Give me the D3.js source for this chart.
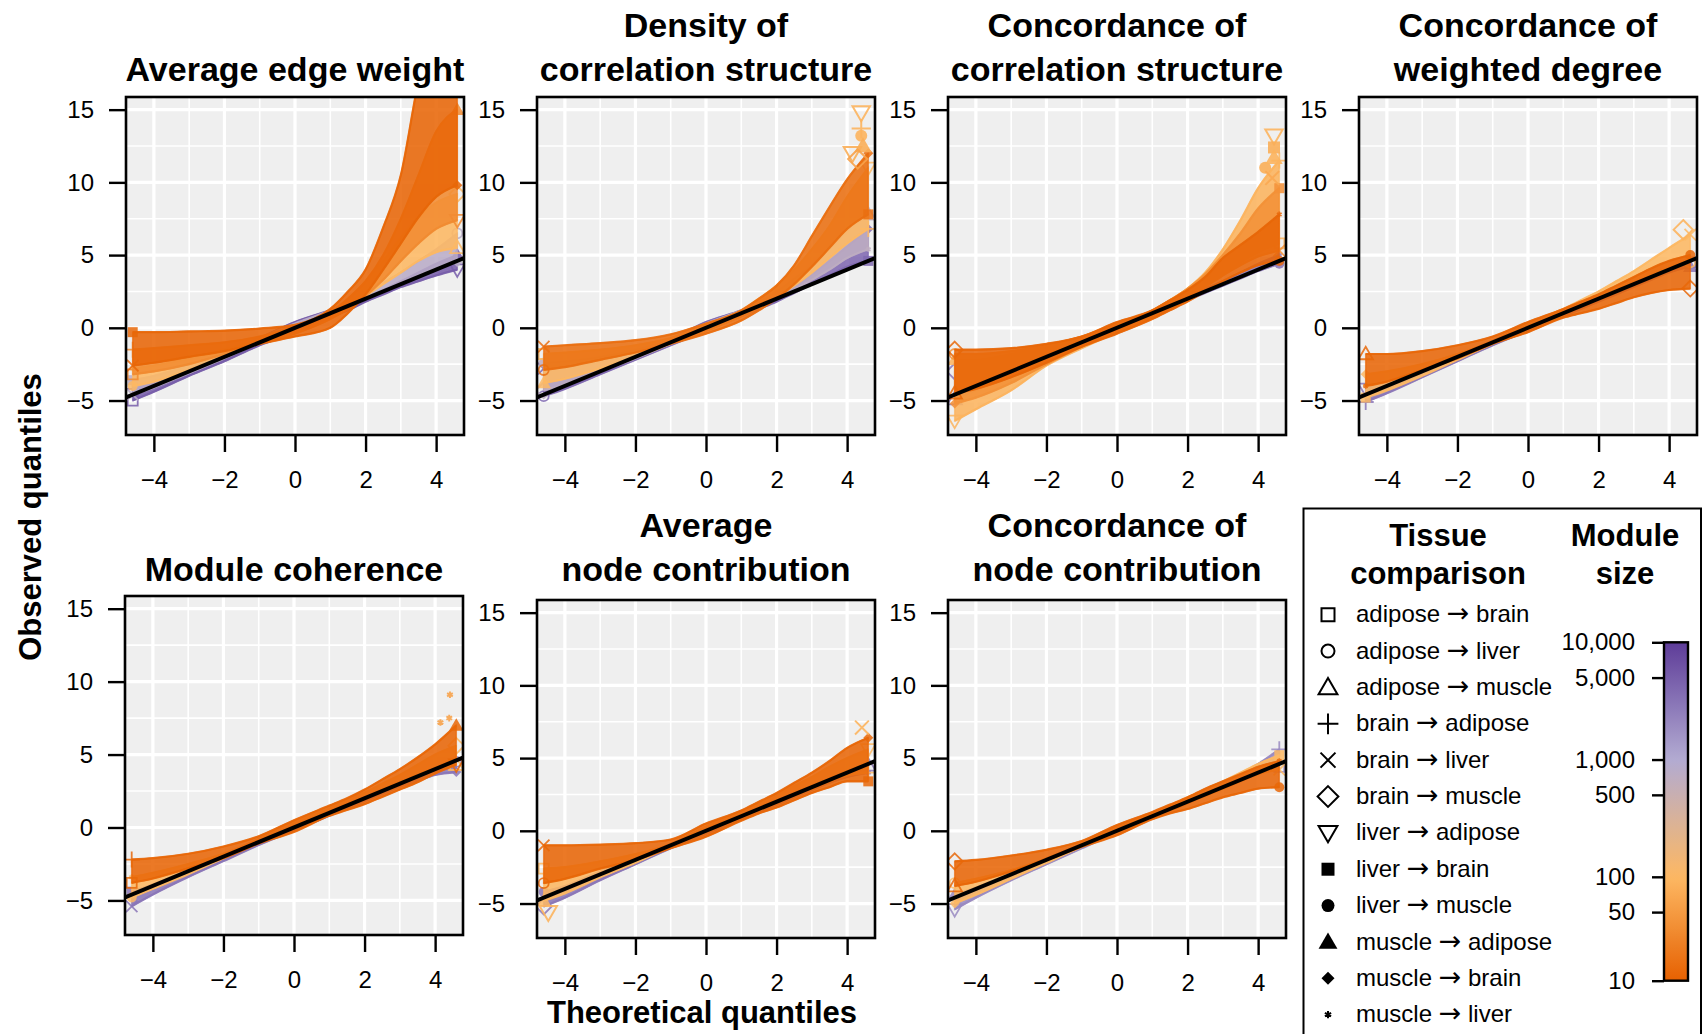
<!DOCTYPE html>
<html>
<head>
<meta charset="utf-8">
<script src="https://cdn.jsdelivr.net/npm/d3@7"></script>
<style>
  body { margin: 0; background: #ffffff; }
  text { font-family: "Liberation Sans", Arial, Helvetica, sans-serif; fill: #000; }
</style>
</head>
<body>
<svg id="chart" width="1702" height="1034"></svg>
<script>
// ---------------------------------------------------------------------------
// Data: observed vs theoretical quantiles of module preservation statistics.
// Each band is the envelope (lo/hi) covered by the QQ curves of modules of a
// given size, read at the theoretical quantile knots below.
// ---------------------------------------------------------------------------
const quantileKnots = [-4.6, -4, -3, -2, -1, 0, 1, 1.5, 2, 2.5, 3, 3.5, 4, 4.6];

const panelTitles = [
  ["Average edge weight"],
  ["Density of", "correlation structure"],
  ["Concordance of", "correlation structure"],
  ["Concordance of", "weighted degree"],
  ["Module coherence"],
  ["Average", "node contribution"],
  ["Concordance of", "node contribution"]
];

const edgeWeightBands = [
  { size: 5000, lo: [-5.0, -4.4, -3.3, -2.3, -1.2, -0.3, 0.7, 1.2, 1.8, 2.3, 2.8, 3.2, 3.6, 4.0],
                hi: [-4.2, -3.8, -2.8, -1.8, -0.7, 0.4, 1.2, 1.6, 2.1, 2.6, 3.2, 3.8, 4.4, 5.0] },
  { size: 800,  lo: [-4.6, -4.1, -3.1, -2.1, -1.0, 0.0, 0.9, 1.4, 2.0, 2.5, 3.0, 3.6, 4.1, 4.5],
                hi: [-3.6, -3.3, -2.6, -1.7, -0.7, 0.3, 1.2, 1.8, 2.4, 3.1, 3.8, 4.6, 5.4, 6.5] },
  { size: 100,  lo: [-4.0, -3.7, -2.9, -2.0, -1.0, -0.1, 0.9, 1.5, 2.2, 3.0, 3.8, 4.6, 5.2, 5.5],
                hi: [-2.8, -2.6, -2.1, -1.5, -0.8, 0.1, 1.1, 2.0, 3.2, 4.6, 6.2, 7.6, 8.6, 9.2] },
  { size: 35,   lo: [-3.2, -3.0, -2.5, -1.8, -1.1, -0.4, 0.6, 1.3, 2.2, 3.3, 4.6, 5.8, 6.8, 7.4],
                hi: [-1.5, -1.4, -1.2, -1.0, -0.6, 0.1, 1.0, 2.0, 3.2, 5.0, 7.5, 10.5, 13.5, 15.0] },
  { size: 15,   lo: [-2.6, -2.4, -2.0, -1.6, -1.1, -0.6, 0.0, 1.0, 2.3, 4.0, 5.8, 7.6, 9.0, 9.8],
                hi: [-0.3, -0.3, -0.25, -0.2, -0.05, 0.2, 1.3, 2.5, 4.0, 6.9, 10.5, 17.0, 22.0, 26.0] }
];

const densityBands = [
  { size: 4000, lo: [-4.7, -4.2, -3.2, -2.2, -1.2, -0.2, 0.8, 1.3, 1.8, 2.4, 3.0, 3.6, 4.2, 4.6],
                hi: [-2.8, -2.7, -2.3, -1.7, -0.8, 0.4, 1.2, 1.7, 2.3, 2.9, 3.7, 4.6, 5.6, 6.8] },
  { size: 700,  lo: [-4.3, -3.9, -3.0, -2.1, -1.1, -0.1, 0.9, 1.4, 2.0, 2.6, 3.3, 4.0, 4.8, 5.4],
                hi: [-2.4, -2.3, -2.0, -1.5, -0.8, 0.3, 1.2, 1.8, 2.5, 3.4, 4.3, 5.4, 6.6, 7.8] },
  { size: 100,  lo: [-3.8, -3.5, -2.8, -2.0, -1.1, -0.2, 0.8, 1.4, 2.1, 2.9, 3.8, 4.8, 5.8, 6.8],
                hi: [-1.8, -1.7, -1.5, -1.2, -0.7, 0.2, 1.2, 2.0, 2.9, 4.0, 5.4, 7.0, 9.0, 11.0] },
  { size: 18,   lo: [-2.9, -2.7, -2.2, -1.7, -1.1, -0.4, 0.5, 1.2, 2.0, 3.0, 4.2, 5.5, 6.8, 7.8],
                hi: [-1.3, -1.2, -1.05, -0.85, -0.45, 0.3, 1.2, 2.0, 2.9, 4.3, 6.3, 8.3, 10.2, 12.0] }
];

const concordCorrBands = [
  { size: 3000, lo: [-4.9, -4.3, -3.2, -2.2, -1.1, -0.1, 0.9, 1.4, 1.9, 2.4, 2.9, 3.4, 3.9, 4.4],
                hi: [-3.0, -2.9, -2.5, -1.8, -0.8, 0.3, 1.1, 1.6, 2.1, 2.7, 3.2, 3.8, 4.4, 5.0] },
  { size: 90,   lo: [-6.4, -5.6, -4.3, -2.6, -1.4, -0.3, 0.8, 1.4, 2.1, 2.9, 3.7, 4.5, 5.2, 5.8],
                hi: [-2.2, -2.2, -1.8, -1.3, -0.7, 0.3, 1.2, 1.9, 2.7, 3.8, 5.4, 7.4, 9.6, 11.5] },
  { size: 40,   lo: [-5.2, -4.8, -3.8, -2.5, -1.3, -0.3, 0.7, 1.3, 2.0, 2.8, 3.6, 4.3, 4.9, 5.3],
                hi: [-1.8, -1.8, -1.6, -1.2, -0.6, 0.3, 1.2, 1.9, 2.7, 3.7, 5.0, 6.5, 8.2, 9.6] },
  { size: 15,   lo: [-4.5, -4.2, -3.4, -2.4, -1.3, -0.4, 0.6, 1.2, 1.8, 2.5, 3.2, 3.8, 4.3, 4.6],
                hi: [-1.5, -1.5, -1.4, -1.1, -0.6, 0.4, 1.2, 1.9, 2.6, 3.5, 4.8, 5.7, 6.6, 7.8] }
];

const weightedDegreeBands = [
  { size: 3000, lo: [-5.1, -4.5, -3.4, -2.3, -1.2, -0.2, 0.8, 1.3, 1.8, 2.3, 2.8, 3.3, 3.8, 4.2],
                hi: [-4.2, -3.8, -2.9, -1.9, -0.9, 0.2, 1.1, 1.6, 2.1, 2.6, 3.1, 3.6, 4.1, 4.5] },
  { size: 100,  lo: [-4.8, -4.3, -3.3, -2.2, -1.1, -0.1, 0.9, 1.5, 2.0, 2.6, 3.2, 3.7, 4.2, 4.5],
                hi: [-3.2, -3.0, -2.5, -1.8, -0.9, 0.3, 1.3, 1.9, 2.5, 3.2, 3.9, 4.7, 5.5, 6.4] },
  { size: 15,   lo: [-4.0, -3.7, -2.9, -2.1, -1.1, -0.3, 0.7, 1.0, 1.3, 1.7, 2.1, 2.4, 2.6, 2.7],
                hi: [-1.8, -1.8, -1.6, -1.2, -0.6, 0.4, 1.3, 1.8, 2.3, 2.9, 3.5, 4.1, 4.6, 5.0] }
];

const coherenceBands = [
  { size: 3000, lo: [-5.4, -4.6, -3.4, -2.3, -1.2, -0.2, 0.8, 1.3, 1.8, 2.3, 2.8, 3.2, 3.6, 3.8],
                hi: [-4.4, -3.9, -2.9, -1.9, -0.8, 0.3, 1.1, 1.6, 2.1, 2.6, 3.1, 3.6, 4.1, 4.5] },
  { size: 100,  lo: [-4.8, -4.2, -3.2, -2.1, -1.0, 0.0, 1.0, 1.5, 2.0, 2.5, 3.0, 3.5, 4.0, 4.3],
                hi: [-3.4, -3.1, -2.5, -1.8, -0.8, 0.4, 1.3, 1.9, 2.4, 3.0, 3.6, 4.3, 5.0, 5.6] },
  { size: 15,   lo: [-3.8, -3.5, -2.8, -2.1, -1.1, -0.3, 0.8, 1.2, 1.6, 2.1, 2.6, 3.1, 3.7, 4.3],
                hi: [-2.2, -2.1, -1.8, -1.3, -0.6, 0.5, 1.5, 2.0, 2.6, 3.3, 4.0, 4.8, 5.7, 7.0] }
];

const nodeContribBands = [
  { size: 3000, lo: [-5.2, -4.6, -3.4, -2.3, -1.2, -0.2, 0.8, 1.3, 1.8, 2.3, 2.8, 3.3, 3.7, 4.0],
                hi: [-4.2, -3.8, -2.8, -1.9, -0.9, 0.2, 1.1, 1.6, 2.1, 2.6, 3.1, 3.6, 4.1, 4.5] },
  { size: 100,  lo: [-4.8, -4.3, -3.2, -2.2, -1.1, -0.1, 0.9, 1.4, 1.9, 2.4, 2.9, 3.4, 3.8, 4.0],
                hi: [-2.6, -2.5, -2.1, -1.6, -0.9, 0.3, 1.3, 1.9, 2.5, 3.1, 3.7, 4.4, 5.0, 5.6] },
  { size: 15,   lo: [-3.6, -3.3, -2.6, -2.0, -1.2, -0.4, 0.7, 1.2, 1.6, 2.1, 2.6, 3.0, 3.4, 3.4],
                hi: [-1.0, -1.0, -0.95, -0.85, -0.6, 0.5, 1.4, 2.0, 2.6, 3.3, 4.0, 4.8, 5.7, 6.4] }
];

const concordNodeBands = [
  { size: 2000, lo: [-5.4, -4.6, -3.4, -2.3, -1.2, -0.1, 0.9, 1.4, 1.9, 2.5, 3.0, 3.6, 4.1, 4.4],
                hi: [-4.4, -3.9, -2.9, -1.9, -0.9, 0.3, 1.2, 1.7, 2.2, 2.8, 3.3, 3.9, 4.6, 5.6] },
  { size: 100,  lo: [-5.0, -4.4, -3.3, -2.2, -1.1, -0.1, 0.9, 1.4, 1.9, 2.4, 2.9, 3.4, 3.9, 4.2],
                hi: [-3.6, -3.3, -2.7, -1.9, -0.9, 0.3, 1.2, 1.7, 2.3, 2.8, 3.4, 4.0, 4.6, 5.2] },
  { size: 15,   lo: [-3.8, -3.5, -2.8, -2.0, -1.1, -0.3, 0.8, 1.2, 1.5, 1.9, 2.3, 2.6, 2.9, 3.0],
                hi: [-2.1, -2.0, -1.7, -1.3, -0.7, 0.4, 1.3, 1.8, 2.3, 2.9, 3.4, 3.9, 4.4, 4.8] }
];

// Individual extreme points (theoretical, observed, comparison index, module size)
const edgeWeightOutliers = [];
const densityOutliers = [
  { x: 4.4, y: 14.8, c: 6, size: 90 }, { x: 4.4, y: 13.7, c: 3, size: 90 },
  { x: 4.4, y: 13.2, c: 8, size: 90 }, { x: 4.15, y: 12.0, c: 6, size: 80 },
  { x: 4.45, y: 12.5, c: 9, size: 80 }, { x: 4.3, y: 11.6, c: 5, size: 60 }
];
const concordCorrOutliers = [
  { x: 4.45, y: 13.2, c: 6, size: 90 }, { x: 4.45, y: 12.4, c: 7, size: 80 },
  { x: 4.2, y: 11.0, c: 8, size: 80 }, { x: 4.45, y: 11.7, c: 9, size: 90 },
  { x: 4.4, y: 10.3, c: 4, size: 70 }
];
const weightedDegreeOutliers = [{ x: 4.4, y: 6.75, c: 5, size: 90 }];
const coherenceOutliers = [
  { x: 4.42, y: 9.1, c: 11, size: 60 }, { x: 4.4, y: 7.5, c: 11, size: 60 },
  { x: 4.15, y: 7.2, c: 11, size: 60 }
];
const nodeContribOutliers = [{ x: 4.42, y: 7.1, c: 4, size: 90 }, { x: -4.47, y: -5.6, c: 6, size: 90 }];
const concordNodeOutliers = [];

const panelBands = [edgeWeightBands, densityBands, concordCorrBands, weightedDegreeBands,
                    coherenceBands, nodeContribBands, concordNodeBands];
const panelOutliers = [edgeWeightOutliers, densityOutliers, concordCorrOutliers, weightedDegreeOutliers,
                       coherenceOutliers, nodeContribOutliers, concordNodeOutliers];

const comparisonFrom = ["adipose", "adipose", "adipose", "brain", "brain", "brain",
                        "liver", "liver", "liver", "muscle", "muscle", "muscle"];
const comparisonTo   = ["brain", "liver", "muscle", "adipose", "liver", "muscle",
                        "adipose", "brain", "muscle", "adipose", "brain", "liver"];
const comparisonShapes = ["square", "circle", "triangle", "plus", "cross", "diamond",
  "triangleDown", "squareFilled", "circleFilled", "triangleFilled", "diamondSmall", "asterisk"];

const xTicks = [-4, -2, 0, 2, 4];
const yTicks = [-5, 0, 5, 10, 15];
const xMinorGrid = [-3, -1, 1, 3];
const yMinorGrid = [-2.5, 2.5, 7.5, 12.5];
const xLimits = [-4.79, 4.79];
const yLimits = [-7.37, 15.87];

const sizeTicks = [10, 50, 100, 500, 1000, 5000, 10000];
const sizeRange = [13, 10000];

// ---------------------------------------------------------------------------
// Layout and styling
// ---------------------------------------------------------------------------
const panelWidth = 338;
const panelLayout = [
  { left: 126, top: 97, bottom: 435, titleBase: 81 },
  { left: 537, top: 97, bottom: 435, titleBase: 81 },
  { left: 948, top: 97, bottom: 435, titleBase: 81 },
  { left: 1359, top: 97, bottom: 435, titleBase: 81 },
  { left: 125, top: 596, bottom: 935, titleBase: 581 },
  { left: 537, top: 600, bottom: 938, titleBase: 581 },
  { left: 948, top: 600, bottom: 938, titleBase: 581 }
];

const color = d3.scaleLog()
  .domain([sizeRange[0], 100, 1000, sizeRange[1]])
  .range(["#e66101", "#fdb863", "#b2abd2", "#5e3c99"])
  .interpolate(d3.interpolateRgb)
  .clamp(true);

const svg = d3.select("#chart");
const defs = svg.append("defs");

function shapePath(shape, r) {
  const p = d3.path();
  switch (shape) {
    case "square": case "squareFilled":
      p.rect(-r, -r, 2 * r, 2 * r); break;
    case "circle": case "circleFilled":
      p.moveTo(r, 0); p.arc(0, 0, r, 0, 2 * Math.PI); p.closePath(); break;
    case "triangle": case "triangleFilled":
      p.moveTo(0, -1.45 * r); p.lineTo(1.45 * r, 1.05 * r); p.lineTo(-1.45 * r, 1.05 * r); p.closePath(); break;
    case "triangleDown":
      p.moveTo(0, 1.45 * r); p.lineTo(1.45 * r, -1.05 * r); p.lineTo(-1.45 * r, -1.05 * r); p.closePath(); break;
    case "plus":
      p.moveTo(-1.6 * r, 0); p.lineTo(1.6 * r, 0); p.moveTo(0, -1.6 * r); p.lineTo(0, 1.6 * r); break;
    case "cross":
      p.moveTo(-1.15 * r, -1.15 * r); p.lineTo(1.15 * r, 1.15 * r);
      p.moveTo(-1.15 * r, 1.15 * r); p.lineTo(1.15 * r, -1.15 * r); break;
    case "diamond":
      p.moveTo(0, -1.6 * r); p.lineTo(1.6 * r, 0); p.lineTo(0, 1.6 * r); p.lineTo(-1.6 * r, 0); p.closePath(); break;
    case "diamondSmall":
      p.moveTo(0, -r); p.lineTo(r, 0); p.lineTo(0, r); p.lineTo(-r, 0); p.closePath(); break;
    case "asterisk": {
      const a = 0.55 * r;
      for (let k = 0; k < 3; k++) {
        const t = Math.PI / 2 + k * Math.PI / 3;
        p.moveTo(-a * Math.cos(t), -a * Math.sin(t)); p.lineTo(a * Math.cos(t), a * Math.sin(t));
      }
      break;
    }
  }
  return p.toString();
}
const isFilled = s => /Filled|Small/.test(s);

function drawSymbol(g, shape, cx, cy, r, col, sw) {
  const filled = isFilled(shape);
  return g.append("path")
    .attr("transform", `translate(${cx},${cy})`)
    .attr("d", shapePath(shape, r))
    .attr("fill", filled ? col : "none")
    .attr("stroke", filled ? "none" : col)
    .attr("stroke-width", sw);
}

// ---------------------------------------------------------------------------
// Panels
// ---------------------------------------------------------------------------
panelLayout.forEach((L, i) => {
  const right = L.left + panelWidth;
  const x = d3.scaleLinear().domain(xLimits).range([L.left, right]);
  const y = d3.scaleLinear().domain(yLimits).range([L.bottom, L.top]);
  const g = svg.append("g").attr("class", "panel");

  defs.append("clipPath").attr("id", "clip" + i)
    .append("rect").attr("x", L.left).attr("y", L.top)
    .attr("width", panelWidth).attr("height", L.bottom - L.top);

  g.append("rect").attr("x", L.left).attr("y", L.top)
    .attr("width", panelWidth).attr("height", L.bottom - L.top)
    .attr("fill", "#efefef");

  const grid = g.append("g").attr("stroke", "#ffffff");
  grid.selectAll(".vmin").data(xMinorGrid).join("line")
    .attr("x1", d => x(d)).attr("x2", d => x(d)).attr("y1", L.top).attr("y2", L.bottom).attr("stroke-width", 1.6);
  grid.selectAll(".hmin").data(yMinorGrid).join("line")
    .attr("y1", d => y(d)).attr("y2", d => y(d)).attr("x1", L.left).attr("x2", right).attr("stroke-width", 1.6);
  grid.selectAll(".vmaj").data(xTicks).join("line")
    .attr("x1", d => x(d)).attr("x2", d => x(d)).attr("y1", L.top).attr("y2", L.bottom).attr("stroke-width", 3.2);
  grid.selectAll(".hmaj").data(yTicks).join("line")
    .attr("y1", d => y(d)).attr("y2", d => y(d)).attr("x1", L.left).attr("x2", right).attr("stroke-width", 3.2);

  const plot = g.append("g").attr("clip-path", `url(#clip${i})`);
  const bands = panelBands[i].slice().sort((a, b) => b.size - a.size);

  const area = d3.area()
    .x((d, k) => x(quantileKnots[k]))
    .y0(d => y(d[0]))
    .y1(d => y(d[1]))
    .curve(d3.curveMonotoneX);
  const edge = d3.line()
    .x((d, k) => x(quantileKnots[k]))
    .y(d => y(d))
    .curve(d3.curveMonotoneX);

  bands.forEach((b, bi) => {
    const pts = b.lo.map((v, k) => [v, b.hi[k]]);
    const col = color(b.size);
    plot.append("path").attr("d", area(pts))
      .attr("fill", col).attr("fill-opacity", 0.88)
      .attr("stroke", col).attr("stroke-width", 1.5).attr("stroke-opacity", 0.7);
    [b.lo, b.hi].forEach(arr => {
      plot.append("path").attr("d", edge(arr))
        .attr("fill", "none").attr("stroke", col).attr("stroke-width", 2.2).attr("stroke-opacity", 0.9);
    });
    // end-point symbols of the curves bounding each band
    const last = quantileKnots.length - 1;
    [[0, b.lo], [0, b.hi], [last, b.lo], [last, b.hi]].forEach(([k, arr], j) => {
      const shape = comparisonShapes[(bi * 4 + j * 3 + i) % comparisonShapes.length];
      drawSymbol(plot, shape, x(quantileKnots[k]), y(arr[k]), 5, col, 1.8).attr("opacity", 0.85);
    });
  });

  panelOutliers[i].forEach(o => {
    drawSymbol(plot, comparisonShapes[o.c], x(o.x), y(o.y), 6, color(o.size), 2).attr("opacity", 0.9);
  });

  // identity reference line
  plot.append("line")
    .attr("x1", x(xLimits[0])).attr("y1", y(xLimits[0]))
    .attr("x2", x(xLimits[1])).attr("y2", y(xLimits[1]))
    .attr("stroke", "#000").attr("stroke-width", 4);

  g.append("rect").attr("x", L.left).attr("y", L.top)
    .attr("width", panelWidth).attr("height", L.bottom - L.top)
    .attr("fill", "none").attr("stroke", "#000").attr("stroke-width", 2.6);

  const yAxis = g.append("g").attr("transform", `translate(${L.left},0)`)
    .call(d3.axisLeft(y).tickValues(yTicks).tickSize(17).tickPadding(15));
  const xAxis = g.append("g").attr("transform", `translate(0,${L.bottom})`)
    .call(d3.axisBottom(x).tickValues(xTicks).tickSize(17).tickPadding(19));
  [xAxis, yAxis].forEach(a => {
    a.select(".domain").remove();
    a.selectAll(".tick line").attr("stroke", "#000").attr("stroke-width", 2.4);
    a.selectAll(".tick text").attr("font-size", 24).attr("font-family", null).style("fill", "#000");
  });

  const titleLines = panelTitles[i];
  const cx = L.left + panelWidth / 2;
  titleLines.forEach((t, k) => {
    g.append("text")
      .attr("x", cx)
      .attr("y", L.titleBase - (titleLines.length - 1 - k) * 44)
      .attr("text-anchor", "middle")
      .attr("font-size", 34).attr("font-weight", "bold")
      .text(t);
  });
});

// Axis titles
svg.append("text")
  .attr("transform", "translate(41,517) rotate(-90)")
  .attr("text-anchor", "middle").attr("font-size", 31).attr("font-weight", "bold")
  .text("Observed quantiles");
svg.append("text")
  .attr("x", 702).attr("y", 1023)
  .attr("text-anchor", "middle").attr("font-size", 31).attr("font-weight", "bold")
  .text("Theoretical quantiles");

// ---------------------------------------------------------------------------
// Legend
// ---------------------------------------------------------------------------
const legend = svg.append("g");
legend.append("rect")
  .attr("x", 1303.5).attr("y", 508.5).attr("width", 397.5).attr("height", 600)
  .attr("fill", "#fff").attr("stroke", "#000").attr("stroke-width", 2);

[["Tissue", 1438, 545.5], ["comparison", 1438, 584], ["Module", 1625, 545.5], ["size", 1625, 584]]
  .forEach(([t, lx, ly]) => legend.append("text").attr("x", lx).attr("y", ly)
    .attr("text-anchor", "middle").attr("font-size", 31).attr("font-weight", "bold").text(t));

comparisonFrom.forEach((from, k) => {
  const base = 622.3 + k * 36.36;
  drawSymbol(legend, comparisonShapes[k], 1328, base - 7.6, 6.5, "#000", 2);
  const t = legend.append("text").attr("x", 1356).attr("y", base).attr("font-size", 24);
  t.append("tspan").text(from + " ");
  t.append("tspan").attr("font-family", "DejaVu Sans").attr("font-size", 27).text("\u2192");
  t.append("tspan").text(" " + comparisonTo[k]);
});

// Module size colour bar
const barLeft = 1664, barWidth = 24;
const barBottom = 980.7, barTop = 642.3;
const sizeScale = d3.scaleLog().domain(sizeRange).range([barBottom, barTop]).clamp(true);
const grad = defs.append("linearGradient").attr("id", "sizeGradient")
  .attr("x1", 0).attr("y1", 1).attr("x2", 0).attr("y2", 0);
d3.range(0, 41).forEach(k => {
  const t = k / 40;
  const v = sizeScale.invert(barBottom - t * (barBottom - barTop));
  grad.append("stop").attr("offset", t).attr("stop-color", color(v));
});
legend.append("rect")
  .attr("x", barLeft).attr("y", sizeScale(sizeRange[1]))
  .attr("width", barWidth).attr("height", sizeScale(sizeRange[0]) - sizeScale(sizeRange[1]))
  .attr("fill", "url(#sizeGradient)").attr("stroke", "#000").attr("stroke-width", 2.4);
const sizeAxis = legend.append("g").attr("transform", `translate(${barLeft},0)`)
  .call(d3.axisLeft(sizeScale).tickValues(sizeTicks).tickFormat(d3.format(",")).tickSize(12).tickPadding(17));
sizeAxis.select(".domain").remove();
sizeAxis.selectAll(".tick line").attr("stroke", "#000").attr("stroke-width", 2.4);
sizeAxis.selectAll(".tick text").attr("font-size", 24).attr("font-family", null).style("fill", "#000");
</script>
</body>
</html>
